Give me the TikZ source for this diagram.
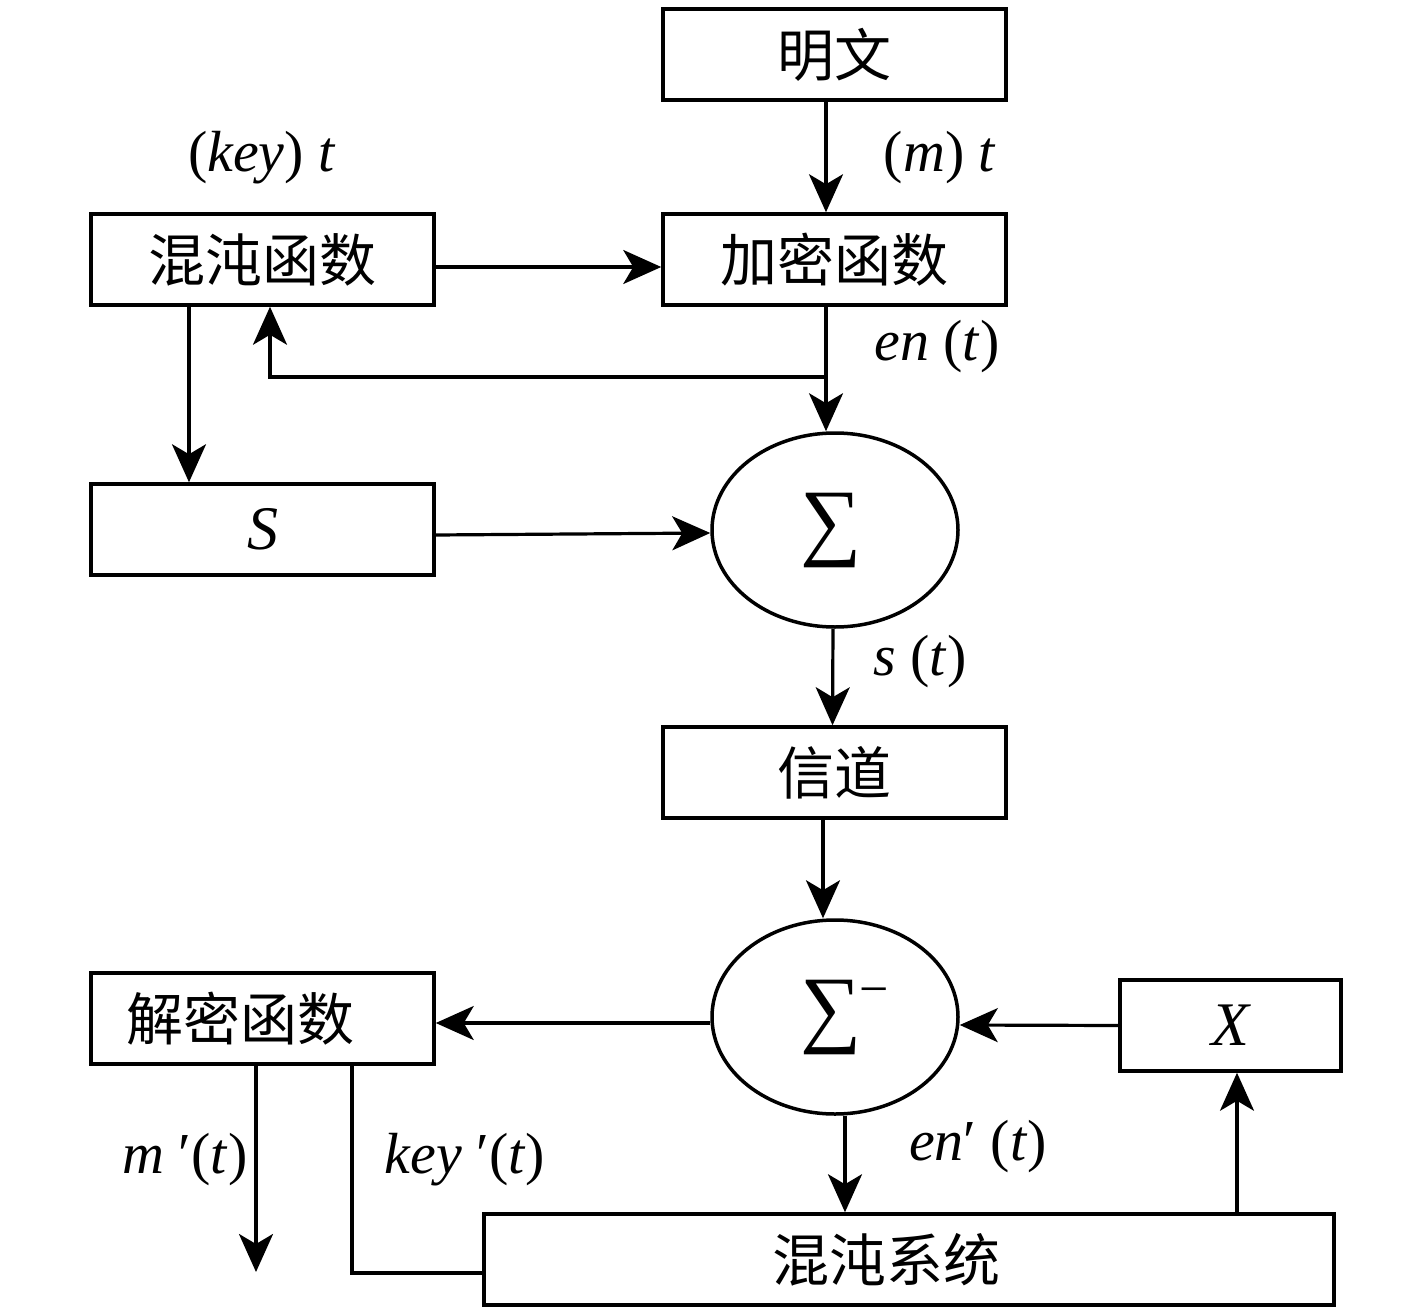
\documentclass[tikz,border=0pt]{standalone}
\usepackage{fontspec}
\setmainfont{Liberation Serif}
\newfontfamily\cjk{Noto Sans CJK SC}
\usetikzlibrary{arrows.meta,shapes.geometric}
\tikzset{
  box/.style={draw, line width=3.5pt, rectangle, minimum height=91pt, inner sep=0pt,
    font=\cjk\fontsize{57}{57}\selectfont},
  symbox/.style={draw, line width=3.5pt, rectangle, minimum height=91pt, inner sep=0pt,
    font=\fontsize{62}{62}\selectfont\itshape},
  sumnode/.style={draw, line width=3.5pt, ellipse, minimum width=246pt, minimum height=194pt, inner sep=0pt,
    font=\fontsize{86}{86}\selectfont},
  lbl/.style={inner sep=0pt, font=\fontsize{58}{58}\selectfont},
  arr/.style={line width=3.2pt, -{Stealth[length=38pt, width=34pt, inset=10pt]}},
  ln/.style={line width=3.2pt}
}
\begin{document}
\begin{tikzpicture}[x=1pt, y=-1pt]
\useasboundingbox (0,0) rectangle (1417,1316);
% boxes
\node[box, minimum width=343pt] (mingwen) at (834.5,54.5) {明文};
\node[box, minimum width=343pt] (jiami) at (834.5,259.5) {加密函数};
\node[box, minimum width=343pt] (hundun) at (262.5,259.5) {混沌函数};
\node[symbox, minimum width=343pt] (S) at (262.5,529.5) {S};
\node[sumnode] (sig1) at (835,530) {\kern-8pt∑};
\node[box, minimum width=343pt] (xindao) at (834.5,772.5) {信道};
\node[sumnode] (sig2) at (835,1017) {\kern-8pt∑\rlap{\kern-2pt\raisebox{30pt}{\fontsize{52}{52}\selectfont −}}};
\node[box, minimum width=343pt] (jiemi) at (262.5,1018.5) {\kern-44pt 解密函数};
\node[symbox, minimum width=221pt] (X) at (1230.5,1025.5) {X};
\node[box, minimum width=850pt] (hdxt) at (909,1259.5) {\kern-46pt 混沌系统};
% labels
\node[lbl] (lkey) at (262,158) {(\textit{key}) \textit{t}};
\node[lbl] (lm) at (940,158) {(\textit{m}) \textit{t}};
\node[lbl] (len) at (937,347) {\textit{en} (\textit{t})};
\node[lbl] (ls) at (920,662) {\textit{s} (\textit{t})};
\node[lbl] (lenp) at (978,1147) {\textit{en}′ (\textit{t})};
\node[lbl] (lmp) at (185,1160) {\textit{m} ′(\textit{t})};
\node[lbl] (lkeyp) at (465,1160) {\textit{key} ′(\textit{t})};
% connectors
\draw[arr] ([xshift=-8.5pt]mingwen.south) -- ([xshift=-8.5pt]jiami.north);
\draw[arr] ([yshift=-7.5pt]hundun.east) -- ([yshift=-7.5pt]jiami.west);
\coordinate (br) at (826,377);
\draw[arr] ([xshift=-8.5pt]jiami.south) -- ([xshift=-8.5pt]jiami.south |- sig1.north);
\draw[arr] (br) -| ([xshift=7.5pt]hundun.south);
\draw[arr] ([xshift=-73.5pt]hundun.south) -- ([xshift=-73.5pt]S.north);
\draw[arr] ([yshift=-5.5pt]S.east) -- ([yshift=-3pt]sig1.west);
\draw[arr] ([xshift=-2pt]sig1.south) -- ([xshift=-2pt]xindao.north);
\draw[arr] ([xshift=-11.5pt]xindao.south) -- ([xshift=-11.5pt]xindao.south |- sig2.north);
\draw[arr] ([yshift=-6pt]sig2.west) -- ([yshift=-4.5pt]jiemi.east);
\draw[arr] (X.west) -- ([yshift=-8pt]sig2.east);
\draw[arr] ([xshift=10pt]sig2.south) -- ([xshift=10pt]sig2.south |- hdxt.north);
\draw[arr] ([xshift=6.5pt]X.south |- hdxt.north) -- ([xshift=6.5pt]X.south);
\coordinate (mout) at (256,1272);
\draw[arr] ([xshift=-6.5pt]jiemi.south) -- (mout);
\draw[ln] ([xshift=89.5pt]jiemi.south) |- ([yshift=-13.5pt]hdxt.west);
\end{tikzpicture}
\end{document}
